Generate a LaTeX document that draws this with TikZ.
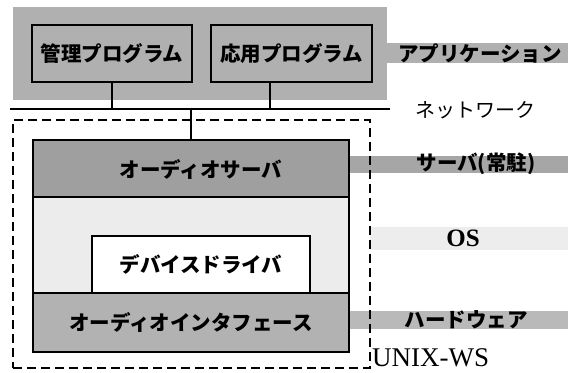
\documentclass[tikz,border=0pt]{standalone}
\usepackage{fontspec}
\setmainfont{Liberation Serif}
\newfontfamily\jp{Noto Sans CJK JP}
\begin{document}
\begin{tikzpicture}[x=1bp,y=-1bp,
  box/.style={draw, line width=2.6bp, inner sep=0pt, outer sep=0pt, anchor=north west},
  band/.style={inner sep=0pt, outer sep=0pt, anchor=north west},
  jt/.style={font=\jp\bfseries\fontsize{20.5bp}{24bp}\selectfont},
  conn/.style={line width=2.6bp}]
\useasboundingbox (0,0) rectangle (568,372);
% application layer
\node[band, fill=gray!62, minimum width=374bp, minimum height=93bp] (app) at (13,7) {};
\node[band, fill=gray!62, minimum width=181bp, minimum height=20bp] (appband) at (387,43) {};
\node[jt] (applbl) at (480,53) {アプリケーション};
\node[box, minimum width=160bp, minimum height=57bp, jt] (kanri) at (32,25) {管理プログラム};
\node[box, minimum width=161bp, minimum height=57bp, jt] (ouyou) at (211,25) {応用プログラム};
% network
\coordinate (netL) at (10,109);
\coordinate (netR) at (390,109);
\draw[conn] (netL) -- (netR);
\node[font=\jp\fontsize{20bp}{24bp}\selectfont] (netlbl) at (475,110) {ネットワーク};
\coordinate (k1) at (kanri.south);
\coordinate (o1) at ([xshift=-21.5bp]ouyou.south);
\draw[conn] (k1) -- (k1 |- netL);
\draw[conn] (o1) -- (o1 |- netL);
% side bands
\node[band, fill=gray!70, minimum width=219bp, minimum height=17bp] (srvband) at (349,156) {};
\node[band, fill=gray!14, minimum width=198bp, minimum height=23bp] (osband) at (370,227) {};
\node[band, fill=gray!55, minimum width=219bp, minimum height=18bp] (hwband) at (349,311) {};
% workstation
\node[box, dashed, dash pattern=on 9bp off 5bp, minimum width=357bp, minimum height=248bp] (ws) at (13,120) {};
\node[box, fill=gray!75, minimum width=316bp, minimum height=57bp] (srv) at (33,140) {};
\node[jt] at (201,169) {オーディオサーバ};
\node[box, fill=gray!15, minimum width=316bp, minimum height=96bp] (os) at (33,197) {};
\node[box, fill=white, minimum width=218bp, minimum height=57bp, jt] (drv) at (92,236) {デバイスドライバ};
\node[box, fill=gray!60, minimum width=316bp, minimum height=59bp, jt] (aif) at (33,293) {オーディオインタフェース};
\draw[conn] (srv.north |- netL) -- (srv.north);
% side labels
\node[jt] (srvlbl) at (476,164) {サーバ(常駐)};
\node[font=\bfseries\fontsize{25bp}{28bp}\selectfont] (oslbl) at (463,238) {OS};
\node[jt] (hwlbl) at (466,320) {ハードウェア};
\node[anchor=base west, inner sep=0pt, font=\fontsize{27bp}{30bp}\selectfont] (wslbl) at (372,366) {UNIX-WS};
\end{tikzpicture}
\end{document}
